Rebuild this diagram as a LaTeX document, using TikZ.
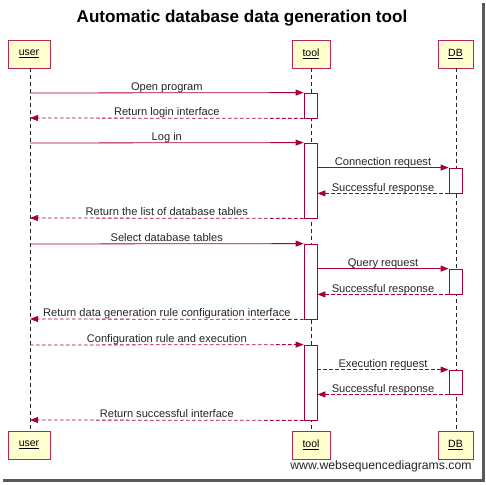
\documentclass[tikz,border=0pt]{standalone}
\usepackage{fontspec}
\setmainfont{Liberation Sans}
\usetikzlibrary{arrows.meta}
\definecolor{crim}{HTML}{A80036}
\definecolor{boxfill}{HTML}{FEFECE}
\tikzset{
  x=1pt, y=-1pt,
  lbl/.style={font=\fontsize{11.1}{13}\selectfont, text=black!85},
  part/.style={draw=crim!85, fill=boxfill, line width=0.8pt, inner sep=0pt, minimum height=28pt, font=\fontsize{10.5}{12}\selectfont},
  act/.style={draw=crim, fill=white, line width=0.8pt, inner sep=0pt, minimum width=13pt},
  life/.style={draw=black!85, line width=0.7pt, dash pattern=on 4pt off 3pt},
  msg/.style={draw=crim, line width=0.8pt, -{Triangle[length=8pt,width=6pt]}},
  ret/.style={msg, dash pattern=on 3.5pt off 2.5pt},
  ml/.style={lbl, midway, above, inner sep=0.6pt, text height=8pt, text depth=2.3pt, yshift=-1pt}
}
\begin{document}
\begin{tikzpicture}
\useasboundingbox (0,0) rectangle (486,484);
\fill[white] (0,0) rectangle (486,484);
% shadow
\fill[black!65] (482,3) rectangle (485,482);
\fill[black!65] (3,479) rectangle (485,482);
% title
\node[font=\bfseries\fontsize{17.1}{20}\selectfont] (title) at (242,18) {Automatic database data generation tool};
% participants
\node[part, minimum width=42pt] (ut) at (29,54) {\underline{user}};
\node[part, minimum width=38pt] (tt) at (311,54) {\underline{tool}};
\node[part, minimum width=35pt] (dt) at (455.5,54) {\underline{DB}};
\node[part, minimum width=42pt] (ub) at (29,445) {\underline{user}};
\node[part, minimum width=38pt] (tb) at (311,445) {\underline{tool}};
\node[part, minimum width=35pt] (db) at (455.5,445) {\underline{DB}};
% lifelines
\draw[life] (ut.south -| 30,0) -- (ub.north -| 30,0);
\draw[life] (tt.south) -- (tb.north);
\draw[life] (dt.south -| 456,0) -- (db.north -| 456,0);
% activations on tool
\node[act, minimum height=25pt] (a1) at (310.5,105.5) {};
\node[act, minimum height=75pt] (a2) at (310.5,180.5) {};
\node[act, minimum height=75pt] (a3) at (310.5,281.5) {};
\node[act, minimum height=75pt] (a4) at (310.5,382.5) {};
% activations on DB
\node[act, minimum height=25pt] (d1) at (455.5,180.5) {};
\node[act, minimum height=25pt] (d2) at (455.5,281.5) {};
\node[act, minimum height=24pt] (d3) at (455.5,382) {};
% user lifeline points
\coordinate (u1) at (30,93);
\coordinate (u2) at (30,118);
\coordinate (u3) at (30,143);
\coordinate (u4) at (30,218);
\coordinate (u5) at (30,244);
\coordinate (u6) at (30,319);
\coordinate (u7) at (30,345);
\coordinate (u8) at (30,420);
% messages
\draw[msg] (u1) -- (a1.north west) node[ml] {Open program};
\draw[ret] (a1.south west) -- (u2) node[ml] {Return login interface};
\draw[msg] (u3) -- (a2.north west) node[ml] {Log in};
\draw[msg] (a2.east |- d1.north) -- (d1.north west) node[ml] {Connection request};
\draw[ret] (d1.south west) -- (a2.east |- d1.south) node[ml] {Successful response};
\draw[ret] (a2.south west) -- (u4) node[ml] {Return the list of database tables};
\draw[msg] (u5) -- (a3.north west) node[ml] {Select database tables};
\draw[msg] (a3.east |- d2.north) -- (d2.north west) node[ml] {Query request};
\draw[ret] (d2.south west) -- (a3.east |- d2.south) node[ml] {Successful response};
\draw[ret] (a3.south west) -- (u6) node[ml] {Return data generation rule configuration interface};
\draw[ret] (u7) -- (a4.north west) node[ml] {Configuration rule and execution};
\draw[ret] (a4.east |- d3.north) -- (d3.north west) node[ml] {Execution request};
\draw[ret] (d3.south west) -- (a4.east |- d3.south) node[ml] {Successful response};
\draw[ret] (a4.south west) -- (u8) node[ml] {Return successful interface};
% watermark
\node[anchor=east, font=\fontsize{12.2}{14}\selectfont, text=black!85] (wm) at (475,466) {www.websequencediagrams.com};
\end{tikzpicture}
\end{document}
